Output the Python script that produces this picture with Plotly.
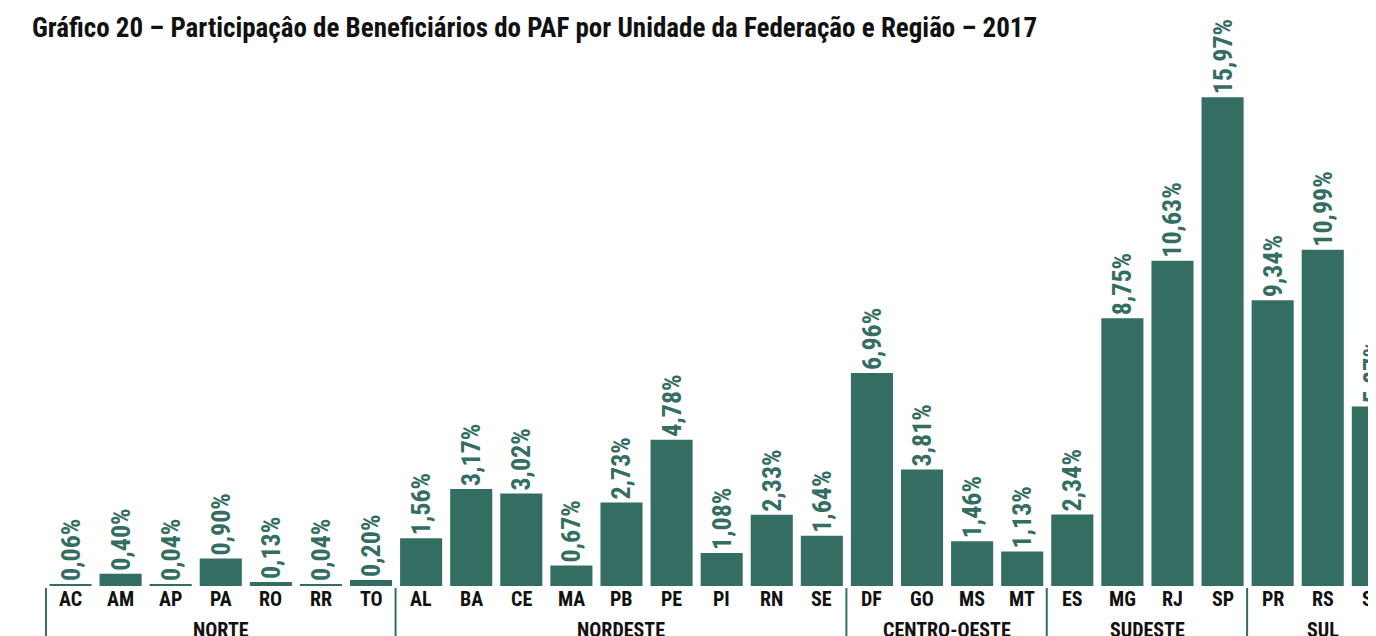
import plotly.graph_objects as go

states = ["AC", "AM", "AP", "PA", "RO", "RR", "TO",
          "AL", "BA", "CE", "MA", "PB", "PE", "PI", "RN", "SE",
          "DF", "GO", "MS", "MT",
          "ES", "MG", "RJ", "SP",
          "PR", "RS", "SC"]
values = [0.06, 0.40, 0.04, 0.90, 0.13, 0.04, 0.20,
          1.56, 3.17, 3.02, 0.67, 2.73, 4.78, 1.08, 2.33, 1.64,
          6.96, 3.81, 1.46, 1.13,
          2.34, 8.75, 10.63, 15.97,
          9.34, 10.99, 5.87]
regions = ["NORTE", "NORDESTE", "CENTRO-OESTE", "SUDESTE", "SUL"]
region_sizes = [7, 9, 4, 4, 3]

title = "Gráfico 20 – Participaçâo de Beneficiários do PAF por Unidade da Federação e Região – 2017"

GREEN = "#346E63"
FONT = "Roboto Condensed, Open Sans Condensed, sans-serif"
OFF = 8                       # page body margin
W, H = 1376 - OFF, 636 - OFF
BASE = 586 - OFF              # baseline in figure pixels
PITCH = 50.09
X0 = 70.5 - OFF               # centre of first bar in figure pixels
PXU = 30.6                    # pixels per percentage point
x = list(range(len(states)))

fig = go.Figure(go.Bar(
    x=x, y=values, width=0.84,
    marker=dict(color=GREEN, line=dict(width=0)),
    texttemplate="<b>%{y:.2f}%</b>", textposition="outside", textangle=-90,
    textfont=dict(family=FONT, size=26, color=GREEN),
    cliponaxis=False, constraintext="none", hoverinfo="skip",
))

def py(ref_px):
    return (BASE - (ref_px - OFF)) / BASE

ann = [dict(text=f"<b>{title}</b>", x=(30 - OFF) / W, xref="paper", xanchor="left",
            y=py(28), yref="paper", yanchor="middle", showarrow=False,
            font=dict(family=FONT, size=27, color="#111111"))]
for i, s in enumerate(states):
    ann.append(dict(text=f"<b>{s}</b>", x=i, xref="x", y=py(599), yref="paper",
                    yanchor="middle", showarrow=False,
                    font=dict(family=FONT, size=20, color="#111111")))

shapes = []
start = 0
bounds = [-0.49]
for r, n in zip(regions, region_sizes):
    end = start + n
    ann.append(dict(text=f"<b>{r}</b>", x=(start + end - 1) / 2, xref="x",
                    y=py(630), yref="paper", yanchor="middle", showarrow=False,
                    font=dict(family=FONT, size=20, color="#111111")))
    start = end
    if end < len(states):
        bounds.append(end - 0.51)
for b in bounds:
    shapes.append(dict(type="line", xref="x", yref="paper", x0=b, x1=b,
                       y0=py(588), y1=py(720), line=dict(color=GREEN, width=2)))

fig.update_layout(
    width=W, height=H, margin=dict(l=0, r=0, t=0, b=H - BASE),
    paper_bgcolor="white", plot_bgcolor="white", separators=",.",
    showlegend=False, annotations=ann, shapes=shapes,
    xaxis=dict(range=[-X0 / PITCH, (W - X0) / PITCH], visible=False, fixedrange=True),
    yaxis=dict(range=[0, BASE / PXU], visible=False, fixedrange=True),
)
fig.write_html("out.html")
